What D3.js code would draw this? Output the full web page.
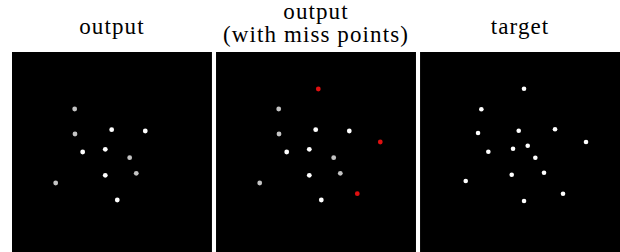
<!DOCTYPE html>
<html>
<head>
<meta charset="utf-8">
<script src="https://cdn.jsdelivr.net/npm/d3@7"></script>
<style>
  body { margin: 0; background: #fff; }
  text { font-family: "Liberation Serif", "Times New Roman", serif; }
</style>
</head>
<body>
<div id="chart"></div>
<script>
"use strict";

// panel titles (one entry per line)
var panelNames = ["output", "miss", "target"];
var panelTitles = [["output"], ["output", "(with miss points)"], ["target"]];

// predicted points: [x, y, shade]  (shade 1 = bright, 0 = dim)
var outputPoints = [
  [62.7, 57, 0], [63, 82, 0], [99.7, 77.7, 1], [133.3, 79, 1],
  [70.7, 100, 1], [93.3, 97.3, 1], [117.7, 105.7, 0], [124.3, 121.3, 0],
  [93.3, 123.3, 1], [43.7, 131, 0], [105.3, 148, 1]
];

// target points the output did not hit
var missPoints = [[102.3, 37], [164.3, 90], [141.3, 141.7]];

// ground-truth points
var targetPoints = [
  [104, 36.7], [61.3, 57.3], [58, 81], [98.7, 78.7], [135, 77.3],
  [166, 90], [68.3, 99.7], [93, 96.7], [107.7, 93.7], [115.3, 105.7],
  [124, 120.7], [91.7, 122.7], [45.7, 129], [143, 141.7], [104, 149]
];

var width = 620, height = 252;
var panelTop = 52, panelBottom = 252;

var svg = d3.select("#chart").append("svg")
  .attr("width", width)
  .attr("height", height);

var band = d3.scaleBand()
  .domain(panelNames)
  .range([12, 620])
  .paddingInner(0.02);

var size = band.bandwidth();

var x = d3.scaleLinear().domain([0, 200]).range([0, size]);
var y = d3.scaleLinear().domain([0, 200]).range([0, panelBottom - panelTop]);

var shade = d3.scaleOrdinal().domain([0, 1]).range(["#c4c4c4", "#ffffff"]);

panelNames.forEach(function(name, i) {
  var g = svg.append("g")
    .attr("transform", "translate(" + band(name) + "," + panelTop + ")");

  g.append("rect")
    .attr("width", size)
    .attr("height", panelBottom - panelTop)
    .attr("fill", "#000");

  // title
  var lines = panelTitles[i];
  var title = svg.append("text")
    .attr("x", band(name) + size / 2)
    .attr("text-anchor", "middle")
    .style("font-size", "23px")
    .style("letter-spacing", "1.1px")
    .attr("fill", "#000");
  lines.forEach(function(t, j) {
    title.append("tspan")
      .attr("x", band(name) + size / 2)
      .attr("y", lines.length === 1 ? 34 : 19 + j * 23)
      .text(t);
  });

  if (name === "target") {
    g.selectAll("circle").data(targetPoints)
      .join("circle")
        .attr("cx", d => x(d[0]))
        .attr("cy", d => y(d[1]))
        .attr("r", 2.3)
        .attr("fill", "#fff");
  } else {
    g.selectAll("circle.out").data(outputPoints)
      .join("circle")
        .attr("class", "out")
        .attr("cx", d => x(d[0]))
        .attr("cy", d => y(d[1]))
        .attr("r", 2.4)
        .attr("fill", d => shade(d[2]));
    if (name === "miss") {
      g.selectAll("circle.miss").data(missPoints)
        .join("circle")
          .attr("class", "miss")
          .attr("cx", d => x(d[0]))
          .attr("cy", d => y(d[1]))
          .attr("r", 2.4)
          .attr("fill", "#e01010");
    }
  }
});
</script>
</body>
</html>
